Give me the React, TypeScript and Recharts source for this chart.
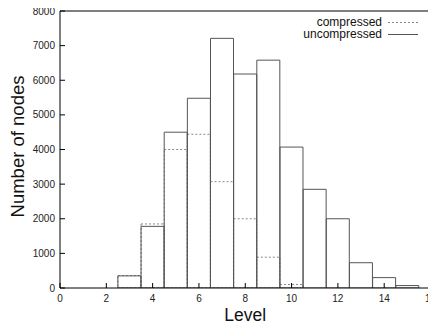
import React from 'react';
import { ComposedChart, Bar, XAxis, YAxis } from 'recharts';

const levels = [3, 4, 5, 6, 7, 8, 9, 10, 11, 12, 13, 14, 15];
const uncompressed = [350, 1780, 4500, 5480, 7210, 6180, 6580, 4070, 2850, 2000, 730, 300, 70];
const compressed = [360, 1850, 4000, 4440, 3070, 2000, 890, 100, 0, 0, 0, 0, 0];
const xTicks = [0, 2, 4, 6, 8, 10, 12, 14, 16];
const yTicks = [0, 1000, 2000, 3000, 4000, 5000, 6000, 7000, 8000];
const seriesNames = ['compressed', 'uncompressed'];
const xTitle = 'Level';
const yTitle = 'Number of nodes';

const data = levels.map((level, i) => ({
  level,
  compressed: compressed[i],
  uncompressed: uncompressed[i],
}));

const FONT = '"Liberation Sans", Arial, Helvetica, sans-serif';

const YLabel = (props: any) => {
  const vb = props.viewBox || { x: 0, y: 0, width: 0, height: 0 };
  const cx = vb.x + 16;
  const cy = vb.y + vb.height / 2 - 3;
  return (
    <text
      x={cx}
      y={cy}
      transform={`rotate(-90 ${cx} ${cy})`}
      textAnchor="middle"
      fontSize={18.5}
      fill="#111"
      fontFamily={FONT}
    >
      {yTitle}
    </text>
  );
};

const XLabel = (props: any) => {
  const vb = props.viewBox || { x: 0, y: 0, width: 0, height: 0 };
  return (
    <text
      x={vb.x + vb.width / 2}
      y={vb.y + 33}
      textAnchor="middle"
      fontSize={17.5}
      fill="#111"
      fontFamily={FONT}
    >
      {xTitle}
    </text>
  );
};

export default function App() {
  return (
    <div
      style={{ position: 'relative', top: -8, left: -8, width: 436, height: 327, fontFamily: FONT }}
    >
      <ComposedChart
        width={436}
        height={327}
        data={data}
        margin={{ top: 10, right: 4.5, left: 8, bottom: 0 }}
        barCategoryGap={0}
        barGap={0}
      >
        <XAxis
          xAxisId="u"
          dataKey="level"
          type="number"
          domain={[0, 16]}
          ticks={xTicks}
          interval={0}
          allowDataOverflow
          height={39}
          tickSize={-5}
          tickMargin={12}
          stroke="#000"
          tick={{ fontSize: 10, fill: '#222', fontFamily: FONT }}
          label={<XLabel />}
        />
        <XAxis
          xAxisId="t"
          orientation="top"
          dataKey="level"
          type="number"
          domain={[0, 16]}
          ticks={xTicks}
          interval={0}
          allowDataOverflow
          height={1}
          tick={false}
          tickSize={-5}
          stroke="#000"
        />
        <YAxis
          yAxisId="l"
          type="number"
          domain={[0, 8000]}
          ticks={yTicks}
          interval={0}
          allowDataOverflow
          width={52}
          tickSize={-5}
          tickMargin={10}
          stroke="#000"
          tick={{ fontSize: 10, fill: '#222', fontFamily: FONT }}
          label={<YLabel />}
        />
        <YAxis
          yAxisId="r"
          orientation="right"
          type="number"
          domain={[0, 8000]}
          ticks={yTicks}
          interval={0}
          allowDataOverflow
          width={1}
          tick={false}
          tickSize={-5}
          stroke="#000"
        />
        <Bar
          xAxisId="t"
          yAxisId="r"
          dataKey="compressed"
          name={seriesNames[0]}
          fill="none"
          stroke="#888"
          strokeDasharray="2 2"
          isAnimationActive={false}
        />
        <Bar
          xAxisId="u"
          yAxisId="l"
          dataKey="uncompressed"
          name={seriesNames[1]}
          fill="none"
          stroke="#555"
          isAnimationActive={false}
        />
      </ComposedChart>
      <svg
        width={436}
        height={327}
        style={{ position: 'absolute', left: 0, top: 0, pointerEvents: 'none' }}
      >
        <text x={382} y={26} textAnchor="end" fontSize={12} fill="#111" fontFamily={FONT}>
          {seriesNames[0]}
        </text>
        <line x1={388} x2={418} y1={22.5} y2={22.5} stroke="#888" strokeDasharray="2 2" />
        <text x={382} y={38} textAnchor="end" fontSize={12} fill="#111" fontFamily={FONT}>
          {seriesNames[1]}
        </text>
        <line x1={388} x2={418} y1={34.5} y2={34.5} stroke="#555" />
      </svg>
    </div>
  );
}
